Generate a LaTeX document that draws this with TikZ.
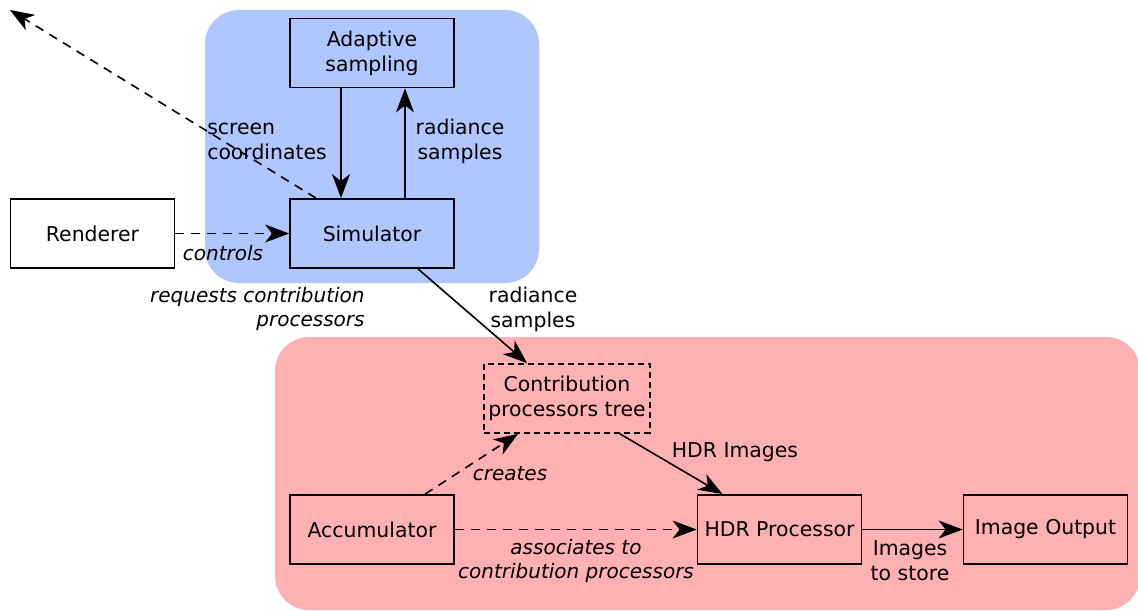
\documentclass[tikz,border=0pt]{standalone}
\usepackage{fontspec}
\setmainfont{DejaVu Sans}
\usetikzlibrary{arrows.meta}
\definecolor{simblue}{RGB}{176,198,255}
\definecolor{procred}{RGB}{255,176,176}
\tikzset{
  block/.style={draw, line width=0.9pt, minimum width=82pt, minimum height=34.5pt,
    inner sep=2pt, align=center},
  lbl/.style={align=center, inner sep=0pt},
  ilbl/.style={lbl, font=\itshape},
  flow/.style={line width=0.8pt, -{Stealth[length=12pt,width=9pt,inset=3.5pt]}},
  weak/.style={flow, dash pattern=on 4.5pt off 3.5pt}
}
\begin{document}
\begin{tikzpicture}[x=0.5pt,y=-0.5pt,font=\fontsize{10.2}{12.5}\selectfont]
\useasboundingbox (0,0) rectangle (1138,610);

% background groups
\fill[simblue, rounded corners=17pt] (205,10) rectangle (539,283);
\fill[procred, rounded corners=17pt] (275,337) rectangle (1140,610);

% blocks
\node[block] (adaptive) at (372,53) {Adaptive\\sampling};
\node[block] (simulator) at (372,233.5) {Simulator};
\node[block] (renderer) at (92.5,233.5) {Renderer};
\node[block, dash pattern=on 3pt off 2pt] (cptree) at (567,398.5) {Contribution\\processors tree};
\node[block] (accum) at (372,529.5) {Accumulator};
\node[block] (hdrproc) at (779.5,529.5) {HDR Processor};
\node[block] (imgout) at (1045.5,529.5) {Image Output};

\coordinate (screen) at (10,10);

% connectors
\draw[flow] ([xshift=-15.5pt]adaptive.south) -- ([xshift=-15.5pt]simulator.north);
\draw[flow] ([xshift=16.5pt]simulator.north) -- ([xshift=16.5pt]adaptive.south);
\draw[weak] ([xshift=-28pt]simulator.north) -- (screen);
\draw[weak] (renderer) -- (simulator);
\draw[flow] ([xshift=23pt]simulator.south) -- ([xshift=-20pt]cptree.north);
\draw[flow] ([xshift=26.5pt]cptree.south) -- ([xshift=-28.5pt]hdrproc.north);
\draw[weak] ([xshift=26.5pt]accum.north) -- ([xshift=-24.5pt]cptree.south);
\draw[weak] (accum) -- (hdrproc);
\draw[flow] (hdrproc) -- (imgout);

% labels
\node[lbl, align=left] (lscreen) at (267,141) {screen\\coordinates};
\node[lbl] (lradup) at (460,141) {radiance\\samples};
\node[ilbl] (lcontrols) at (223,253) {controls};
\node[ilbl, align=right, anchor=east] (lrequests) at (365,309) {requests contribution\\processors};
\node[lbl] (lraddown) at (533,309) {radiance\\samples};
\node[lbl] (lhdr) at (735,452) {HDR Images};
\node[ilbl] (lcreates) at (510,474) {creates};
\node[ilbl] (lassoc) at (576,561) {associates to\\contribution processors};
\node[lbl] (lstore) at (910,561) {Images\\to store};
\end{tikzpicture}
\end{document}
